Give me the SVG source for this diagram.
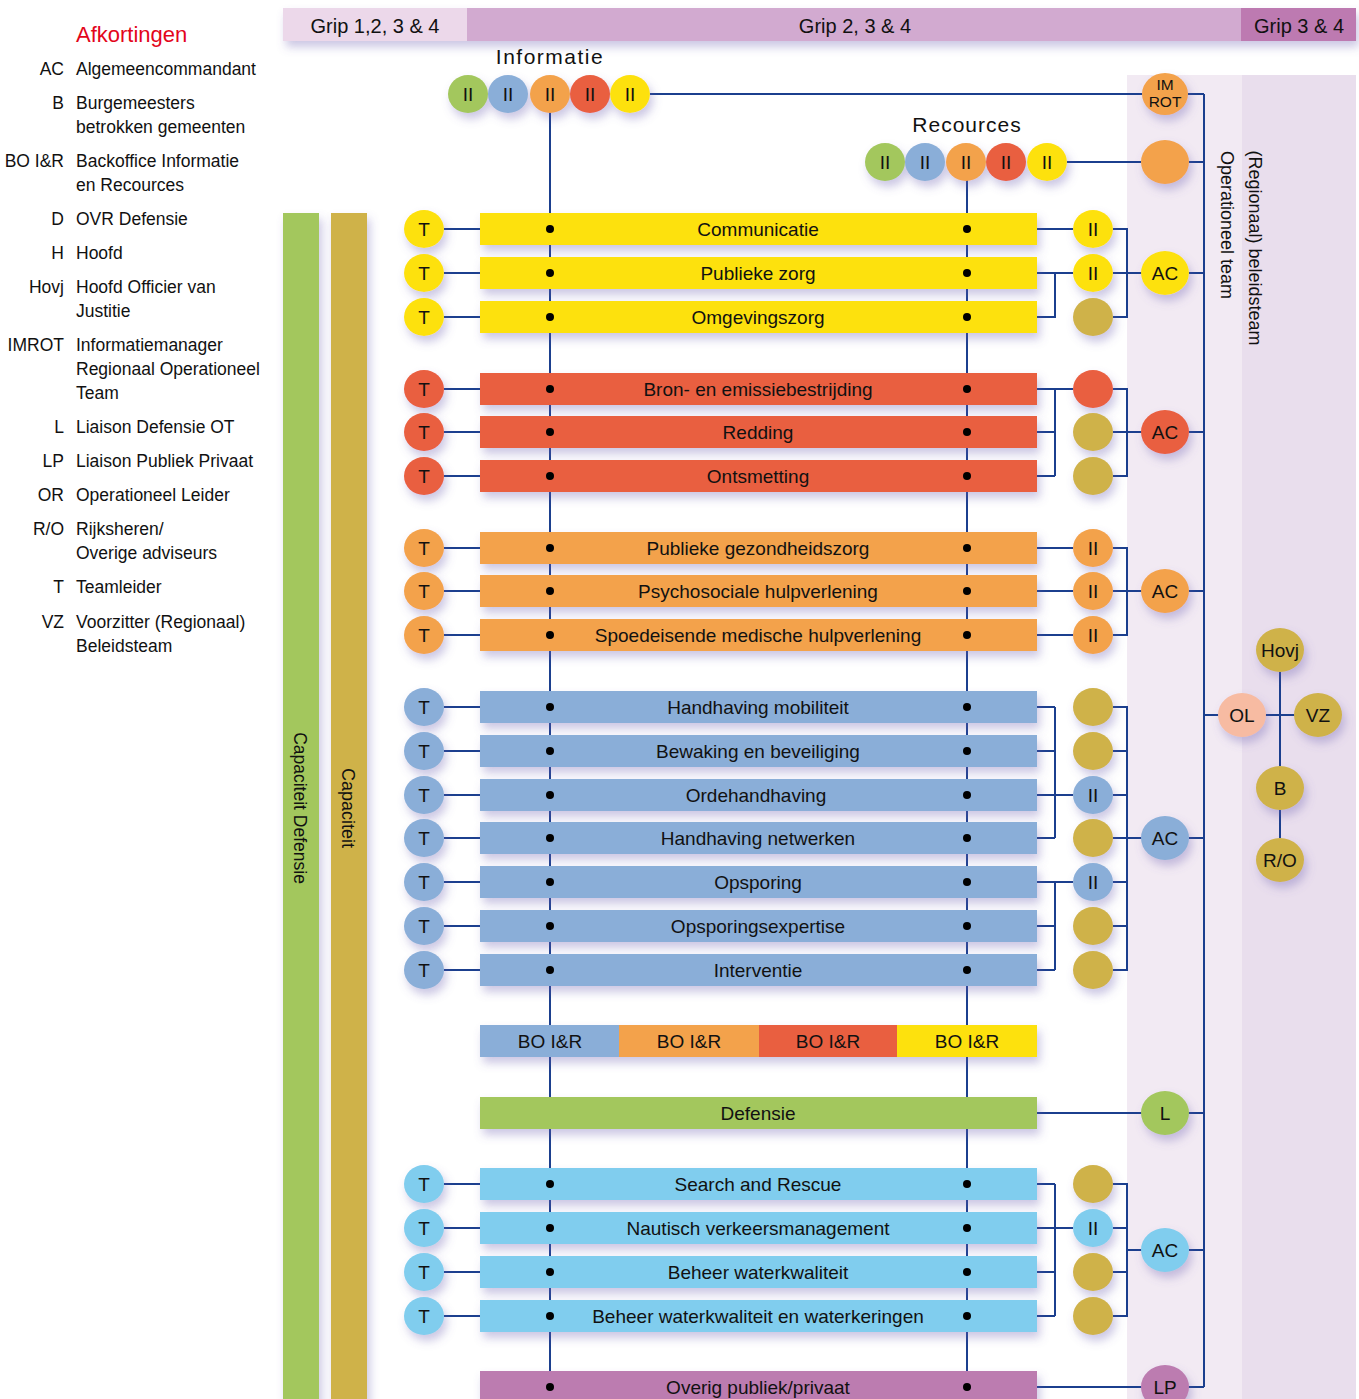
<svg xmlns="http://www.w3.org/2000/svg" width="1359" height="1399" viewBox="0 0 1359 1399">
<defs>
<filter id="sh" x="-40%" y="-40%" width="180%" height="200%">
<feDropShadow dx="3" dy="6" stdDeviation="5" flood-color="#6a5fb0" flood-opacity="0.35"/>
</filter>
<style>
text{font-family:"Liberation Sans",Arial,sans-serif;fill:#111;}
.lg{font-size:17.5px;}
.ab{text-anchor:end;}
.bt{font-size:19px;text-anchor:middle;}
.ct{font-size:19px;text-anchor:middle;}
.hd{font-size:20px;text-anchor:middle;}
.ln{stroke:#1b3f8e;stroke-width:2;fill:none;}
.sh{filter:url(#sh);}
.y{fill:#fde10f;}
.r{fill:#e95f3f;}
.o{fill:#f3a24b;}
.b{fill:#8aaed8;}
.lb{fill:#80cdee;}
.g{fill:#a3c75d;}
.au{fill:#cfb24a;}
.p{fill:#bc7bb0;}
.s{fill:#f7bba2;}
.dot{fill:#000;}
</style>
</defs>
<rect width="1359" height="1399" fill="#fff"/>

<g id="panels">
<rect x="1127" y="75" width="115" height="1324" fill="#f2eaf3"/>
<rect x="1242" y="75" width="114" height="1324" fill="#e9deed"/>
</g>

<g id="header" class="sh">
<rect x="283" y="8" width="184" height="33" fill="#ecd8ea"/>
<rect x="467" y="8" width="774" height="33" fill="#d2aad0"/>
<rect x="1241" y="8" width="115" height="33" fill="#bd7ab1"/>
</g>
<g id="header-text">
<text class="hd" x="375" y="33">Grip 1,2, 3 &amp; 4</text>
<text class="hd" x="855" y="33">Grip 2, 3 &amp; 4</text>
<text class="hd" x="1299" y="33">Grip 3 &amp; 4</text>
</g>

<g id="legend">
<text x="76" y="42" style="font-size:22px;fill:#e3051b">Afkortingen</text>
<g class="lg">
<text class="ab" x="64" y="75">AC</text><text x="76" y="75">Algemeencommandant</text>
<text class="ab" x="64" y="109">B</text><text x="76" y="109">Burgemeesters</text><text x="76" y="133">betrokken gemeenten</text>
<text class="ab" x="64" y="167">BO I&amp;R</text><text x="76" y="167">Backoffice Informatie</text><text x="76" y="191">en Recources</text>
<text class="ab" x="64" y="225">D</text><text x="76" y="225">OVR Defensie</text>
<text class="ab" x="64" y="259">H</text><text x="76" y="259">Hoofd</text>
<text class="ab" x="64" y="293">Hovj</text><text x="76" y="293">Hoofd Officier van</text><text x="76" y="317">Justitie</text>
<text class="ab" x="64" y="351">IMROT</text><text x="76" y="351">Informatiemanager</text><text x="76" y="375">Regionaal Operationeel</text><text x="76" y="399">Team</text>
<text class="ab" x="64" y="433">L</text><text x="76" y="433">Liaison Defensie OT</text>
<text class="ab" x="64" y="467">LP</text><text x="76" y="467">Liaison Publiek Privaat</text>
<text class="ab" x="64" y="501">OR</text><text x="76" y="501">Operationeel Leider</text>
<text class="ab" x="64" y="535">R/O</text><text x="76" y="535">Rijksheren/</text><text x="76" y="559">Overige adviseurs</text>
<text class="ab" x="64" y="593">T</text><text x="76" y="593">Teamleider</text>
<text class="ab" x="64" y="628">VZ</text><text x="76" y="628">Voorzitter (Regionaal)</text><text x="76" y="652">Beleidsteam</text>
</g>
</g>

<g id="capaciteit-bars">
<rect class="sh g" x="283" y="213" width="36" height="1200"/>
<rect class="sh au" x="331" y="213" width="36" height="1200"/>
<text class="bt" transform="translate(300,808) rotate(90)" y="6" style="font-size:17.5px">Capaciteit Defensie</text>
<text class="bt" transform="translate(348,808) rotate(90)" y="6" style="font-size:18px">Capaciteit</text>
</g>

<g id="team-labels">
<text class="bt" transform="translate(1228,225) rotate(90)" y="7" style="font-size:18px">Operationeel team</text>
<text class="bt" transform="translate(1256,248) rotate(90)" y="7" style="font-size:18px">(Regionaal) beleidsteam</text>
</g>

<g id="connectors" class="ln">
<line x1="550" y1="112" x2="550" y2="1371"/>
<line x1="967" y1="180" x2="967" y2="1371"/>
<line x1="1204" y1="94" x2="1204" y2="1387"/>
<line x1="650" y1="94" x2="1142" y2="94"/>
<line x1="1188" y1="94" x2="1204" y2="94"/>
<line x1="1067" y1="162" x2="1141" y2="162"/>
<line x1="1189" y1="162" x2="1204" y2="162"/>
<path d="M444 229H480M444 273H480M444 317H480M444 389H480M444 432H480M444 476H480M444 548H480M444 591H480M444 635H480M444 707H480M444 751H480M444 795H480M444 838H480M444 882H480M444 926H480M444 970H480M444 1184H480M444 1228H480M444 1272H480M444 1316H480"/>
<path d="M1037 229H1073M1037 273H1073M1037 317H1055V273M1113 229H1127V317H1113M1113 273H1142M1189 273H1204"/>
<path d="M1037 389H1073M1037 432H1055M1037 476H1055M1055 389V476M1113 389H1127V476H1113M1113 432H1142M1189 432H1204"/>
<path d="M1037 548H1073M1037 591H1073M1037 635H1073M1113 548H1127V635H1113M1113 591H1142M1189 591H1204"/>
<path d="M1037 707H1055M1037 751H1055M1037 795H1073M1037 838H1055M1055 707V838M1037 882H1073M1037 926H1055M1037 970H1055M1055 882V970M1113 707H1127V970H1113M1113 751H1127M1113 795H1127M1113 838H1142M1113 882H1127M1113 926H1127M1189 838H1204"/>
<path d="M1037 1184H1055M1037 1228H1073M1037 1272H1055M1037 1316H1055M1055 1184V1316M1113 1184H1127V1316H1113M1113 1228H1127M1113 1272H1127M1127 1250H1142M1189 1250H1204"/>
<path d="M1037 1113H1142M1188 1113H1204M1037 1387H1142M1188 1387H1204"/>
<path d="M1204 715H1219M1265 715H1295M1280 672V766M1280 810V838"/>
</g>

<g id="informatie">
<text class="hd" x="550" y="64" style="font-size:21px;letter-spacing:1.5px">Informatie</text>
<g class="sh">
<ellipse class="g" cx="468" cy="94" rx="20" ry="19"/>
<ellipse class="b" cx="508" cy="94" rx="20" ry="19"/>
<ellipse class="o" cx="550" cy="94" rx="20" ry="19"/>
<ellipse class="r" cx="590" cy="94" rx="20" ry="19"/>
<ellipse class="y" cx="630" cy="94" rx="20" ry="19"/>
</g>
<g class="ct"><text x="468" y="101">II</text><text x="508" y="101">II</text><text x="550" y="101">II</text><text x="590" y="101">II</text><text x="630" y="101">II</text></g>
</g>

<g id="recources">
<text class="hd" x="967" y="132" style="font-size:21px;letter-spacing:1px">Recources</text>
<g class="sh">
<ellipse class="g" cx="885" cy="162" rx="20" ry="19"/>
<ellipse class="b" cx="925" cy="162" rx="20" ry="19"/>
<ellipse class="o" cx="966" cy="162" rx="20" ry="19"/>
<ellipse class="r" cx="1006" cy="162" rx="20" ry="19"/>
<ellipse class="y" cx="1047" cy="162" rx="20" ry="19"/>
</g>
<g class="ct"><text x="885" y="169">II</text><text x="925" y="169">II</text><text x="966" y="169">II</text><text x="1006" y="169">II</text><text x="1047" y="169">II</text></g>
</g>

<g id="imrot"><ellipse class="sh o" cx="1165" cy="94" rx="23" ry="21"/><text class="ct" x="1165" y="90" style="font-size:15.5px">IM</text><text class="ct" x="1165" y="107" style="font-size:15.5px">ROT</text></g>
<g id="resources-lead"><ellipse class="sh o" cx="1165" cy="162" rx="24" ry="22"/></g>

<g id="row-communicatie"><ellipse class="sh y" cx="424" cy="229" rx="20" ry="19"/><text class="ct" x="424" y="236">T</text><rect class="sh y" x="480" y="213" width="557" height="32"/><circle class="dot" cx="550" cy="229" r="4"/><circle class="dot" cx="967" cy="229" r="4"/><text class="bt" x="758" y="236">Communicatie</text><ellipse class="sh y" cx="1093" cy="229" rx="20" ry="19"/><text class="ct" x="1093" y="236">II</text></g>
<g id="row-publieke-zorg"><ellipse class="sh y" cx="424" cy="273" rx="20" ry="19"/><text class="ct" x="424" y="280">T</text><rect class="sh y" x="480" y="257" width="557" height="32"/><circle class="dot" cx="550" cy="273" r="4"/><circle class="dot" cx="967" cy="273" r="4"/><text class="bt" x="758" y="280">Publieke zorg</text><ellipse class="sh y" cx="1093" cy="273" rx="20" ry="19"/><text class="ct" x="1093" y="280">II</text></g>
<g id="row-omgevingszorg"><ellipse class="sh y" cx="424" cy="317" rx="20" ry="19"/><text class="ct" x="424" y="324">T</text><rect class="sh y" x="480" y="301" width="557" height="32"/><circle class="dot" cx="550" cy="317" r="4"/><circle class="dot" cx="967" cy="317" r="4"/><text class="bt" x="758" y="324">Omgevingszorg</text><ellipse class="sh au" cx="1093" cy="317" rx="20" ry="19"/></g>
<g id="ac-yellow"><ellipse class="sh y" cx="1165" cy="273" rx="24" ry="22"/><text class="ct" x="1165" y="280">AC</text></g>

<g id="row-bron"><ellipse class="sh r" cx="424" cy="389" rx="20" ry="19"/><text class="ct" x="424" y="396">T</text><rect class="sh r" x="480" y="373" width="557" height="32"/><circle class="dot" cx="550" cy="389" r="4"/><circle class="dot" cx="967" cy="389" r="4"/><text class="bt" x="758" y="396">Bron- en emissiebestrijding</text><ellipse class="sh r" cx="1093" cy="389" rx="20" ry="19"/></g>
<g id="row-redding"><ellipse class="sh r" cx="424" cy="432" rx="20" ry="19"/><text class="ct" x="424" y="439">T</text><rect class="sh r" x="480" y="416" width="557" height="32"/><circle class="dot" cx="550" cy="432" r="4"/><circle class="dot" cx="967" cy="432" r="4"/><text class="bt" x="758" y="439">Redding</text><ellipse class="sh au" cx="1093" cy="432" rx="20" ry="19"/></g>
<g id="row-ontsmetting"><ellipse class="sh r" cx="424" cy="476" rx="20" ry="19"/><text class="ct" x="424" y="483">T</text><rect class="sh r" x="480" y="460" width="557" height="32"/><circle class="dot" cx="550" cy="476" r="4"/><circle class="dot" cx="967" cy="476" r="4"/><text class="bt" x="758" y="483">Ontsmetting</text><ellipse class="sh au" cx="1093" cy="476" rx="20" ry="19"/></g>
<g id="ac-red"><ellipse class="sh r" cx="1165" cy="432" rx="24" ry="22"/><text class="ct" x="1165" y="439">AC</text></g>

<g id="row-pgz"><ellipse class="sh o" cx="424" cy="548" rx="20" ry="19"/><text class="ct" x="424" y="555">T</text><rect class="sh o" x="480" y="532" width="557" height="32"/><circle class="dot" cx="550" cy="548" r="4"/><circle class="dot" cx="967" cy="548" r="4"/><text class="bt" x="758" y="555">Publieke gezondheidszorg</text><ellipse class="sh o" cx="1093" cy="548" rx="20" ry="19"/><text class="ct" x="1093" y="555">II</text></g>
<g id="row-psycho"><ellipse class="sh o" cx="424" cy="591" rx="20" ry="19"/><text class="ct" x="424" y="598">T</text><rect class="sh o" x="480" y="575" width="557" height="32"/><circle class="dot" cx="550" cy="591" r="4"/><circle class="dot" cx="967" cy="591" r="4"/><text class="bt" x="758" y="598">Psychosociale hulpverlening</text><ellipse class="sh o" cx="1093" cy="591" rx="20" ry="19"/><text class="ct" x="1093" y="598">II</text></g>
<g id="row-smh"><ellipse class="sh o" cx="424" cy="635" rx="20" ry="19"/><text class="ct" x="424" y="642">T</text><rect class="sh o" x="480" y="619" width="557" height="32"/><circle class="dot" cx="550" cy="635" r="4"/><circle class="dot" cx="967" cy="635" r="4"/><text class="bt" x="758" y="642">Spoedeisende medische hulpverlening</text><ellipse class="sh o" cx="1093" cy="635" rx="20" ry="19"/><text class="ct" x="1093" y="642">II</text></g>
<g id="ac-orange"><ellipse class="sh o" cx="1165" cy="591" rx="24" ry="22"/><text class="ct" x="1165" y="598">AC</text></g>

<g id="row-hm"><ellipse class="sh b" cx="424" cy="707" rx="20" ry="19"/><text class="ct" x="424" y="714">T</text><rect class="sh b" x="480" y="691" width="557" height="32"/><circle class="dot" cx="550" cy="707" r="4"/><circle class="dot" cx="967" cy="707" r="4"/><text class="bt" x="758" y="714">Handhaving mobiliteit</text><ellipse class="sh au" cx="1093" cy="707" rx="20" ry="19"/></g>
<g id="row-bb"><ellipse class="sh b" cx="424" cy="751" rx="20" ry="19"/><text class="ct" x="424" y="758">T</text><rect class="sh b" x="480" y="735" width="557" height="32"/><circle class="dot" cx="550" cy="751" r="4"/><circle class="dot" cx="967" cy="751" r="4"/><text class="bt" x="758" y="758">Bewaking en beveiliging</text><ellipse class="sh au" cx="1093" cy="751" rx="20" ry="19"/></g>
<g id="row-oh"><ellipse class="sh b" cx="424" cy="795" rx="20" ry="19"/><text class="ct" x="424" y="802">T</text><rect class="sh b" x="480" y="779" width="557" height="32"/><circle class="dot" cx="550" cy="795" r="4"/><circle class="dot" cx="967" cy="795" r="4"/><text class="bt" x="756" y="802">Ordehandhaving</text><ellipse class="sh b" cx="1093" cy="795" rx="20" ry="19"/><text class="ct" x="1093" y="802">II</text></g>
<g id="row-hn"><ellipse class="sh b" cx="424" cy="838" rx="20" ry="19"/><text class="ct" x="424" y="845">T</text><rect class="sh b" x="480" y="822" width="557" height="32"/><circle class="dot" cx="550" cy="838" r="4"/><circle class="dot" cx="967" cy="838" r="4"/><text class="bt" x="758" y="845">Handhaving netwerken</text><ellipse class="sh au" cx="1093" cy="838" rx="20" ry="19"/></g>
<g id="row-ops"><ellipse class="sh b" cx="424" cy="882" rx="20" ry="19"/><text class="ct" x="424" y="889">T</text><rect class="sh b" x="480" y="866" width="557" height="32"/><circle class="dot" cx="550" cy="882" r="4"/><circle class="dot" cx="967" cy="882" r="4"/><text class="bt" x="758" y="889">Opsporing</text><ellipse class="sh b" cx="1093" cy="882" rx="20" ry="19"/><text class="ct" x="1093" y="889">II</text></g>
<g id="row-opsx"><ellipse class="sh b" cx="424" cy="926" rx="20" ry="19"/><text class="ct" x="424" y="933">T</text><rect class="sh b" x="480" y="910" width="557" height="32"/><circle class="dot" cx="550" cy="926" r="4"/><circle class="dot" cx="967" cy="926" r="4"/><text class="bt" x="758" y="933">Opsporingsexpertise</text><ellipse class="sh au" cx="1093" cy="926" rx="20" ry="19"/></g>
<g id="row-int"><ellipse class="sh b" cx="424" cy="970" rx="20" ry="19"/><text class="ct" x="424" y="977">T</text><rect class="sh b" x="480" y="954" width="557" height="32"/><circle class="dot" cx="550" cy="970" r="4"/><circle class="dot" cx="967" cy="970" r="4"/><text class="bt" x="758" y="977">Interventie</text><ellipse class="sh au" cx="1093" cy="970" rx="20" ry="19"/></g>
<g id="ac-blue"><ellipse class="sh b" cx="1165" cy="838" rx="24" ry="22"/><text class="ct" x="1165" y="845">AC</text></g>

<g id="bo-ir">
<g class="sh">
<rect class="b" x="480" y="1025" width="139" height="32"/>
<rect class="o" x="619" y="1025" width="140" height="32"/>
<rect class="r" x="759" y="1025" width="138" height="32"/>
<rect class="y" x="897" y="1025" width="140" height="32"/>
</g>
<text class="bt" x="550" y="1048">BO I&amp;R</text>
<text class="bt" x="689" y="1048">BO I&amp;R</text>
<text class="bt" x="828" y="1048">BO I&amp;R</text>
<text class="bt" x="967" y="1048">BO I&amp;R</text>
</g>

<g id="defensie"><rect class="sh g" x="480" y="1097" width="557" height="32"/><text class="bt" x="758" y="1120">Defensie</text></g>
<g id="l"><ellipse class="sh g" cx="1165" cy="1113" rx="24" ry="22"/><text class="ct" x="1165" y="1120">L</text></g>

<g id="row-sar"><ellipse class="sh lb" cx="424" cy="1184" rx="20" ry="19"/><text class="ct" x="424" y="1191">T</text><rect class="sh lb" x="480" y="1168" width="557" height="32"/><circle class="dot" cx="550" cy="1184" r="4"/><circle class="dot" cx="967" cy="1184" r="4"/><text class="bt" x="758" y="1191">Search and Rescue</text><ellipse class="sh au" cx="1093" cy="1184" rx="20" ry="19"/></g>
<g id="row-nvm"><ellipse class="sh lb" cx="424" cy="1228" rx="20" ry="19"/><text class="ct" x="424" y="1235">T</text><rect class="sh lb" x="480" y="1212" width="557" height="32"/><circle class="dot" cx="550" cy="1228" r="4"/><circle class="dot" cx="967" cy="1228" r="4"/><text class="bt" x="758" y="1235">Nautisch verkeersmanagement</text><ellipse class="sh lb" cx="1093" cy="1228" rx="20" ry="19"/><text class="ct" x="1093" y="1235">II</text></g>
<g id="row-bw"><ellipse class="sh lb" cx="424" cy="1272" rx="20" ry="19"/><text class="ct" x="424" y="1279">T</text><rect class="sh lb" x="480" y="1256" width="557" height="32"/><circle class="dot" cx="550" cy="1272" r="4"/><circle class="dot" cx="967" cy="1272" r="4"/><text class="bt" x="758" y="1279">Beheer waterkwaliteit</text><ellipse class="sh au" cx="1093" cy="1272" rx="20" ry="19"/></g>
<g id="row-bwk"><ellipse class="sh lb" cx="424" cy="1316" rx="20" ry="19"/><text class="ct" x="424" y="1323">T</text><rect class="sh lb" x="480" y="1300" width="557" height="32"/><circle class="dot" cx="550" cy="1316" r="4"/><circle class="dot" cx="967" cy="1316" r="4"/><text class="bt" x="758" y="1323">Beheer waterkwaliteit en waterkeringen</text><ellipse class="sh au" cx="1093" cy="1316" rx="20" ry="19"/></g>
<g id="ac-lightblue"><ellipse class="sh lb" cx="1165" cy="1250" rx="24" ry="22"/><text class="ct" x="1165" y="1257">AC</text></g>

<g id="overig"><rect class="sh p" x="480" y="1371" width="557" height="40"/><circle class="dot" cx="550" cy="1387" r="4"/><circle class="dot" cx="967" cy="1387" r="4"/><text class="bt" x="758" y="1394">Overig publiek/privaat</text></g>
<g id="lp"><ellipse class="sh p" cx="1165" cy="1387" rx="24" ry="22"/><text class="ct" x="1165" y="1394">LP</text></g>

<g id="hovj"><ellipse class="sh au" cx="1280" cy="650" rx="24" ry="22"/><text class="ct" x="1280" y="657">Hovj</text></g>
<g id="ol"><ellipse class="sh s" cx="1242" cy="715" rx="24" ry="22"/><text class="ct" x="1242" y="722">OL</text></g>
<g id="vz"><ellipse class="sh au" cx="1318" cy="715" rx="24" ry="22"/><text class="ct" x="1318" y="722">VZ</text></g>
<g id="b"><ellipse class="sh au" cx="1280" cy="788" rx="24" ry="22"/><text class="ct" x="1280" y="795">B</text></g>
<g id="ro"><ellipse class="sh au" cx="1280" cy="860" rx="24" ry="22"/><text class="ct" x="1280" y="867">R/O</text></g>
</svg>
